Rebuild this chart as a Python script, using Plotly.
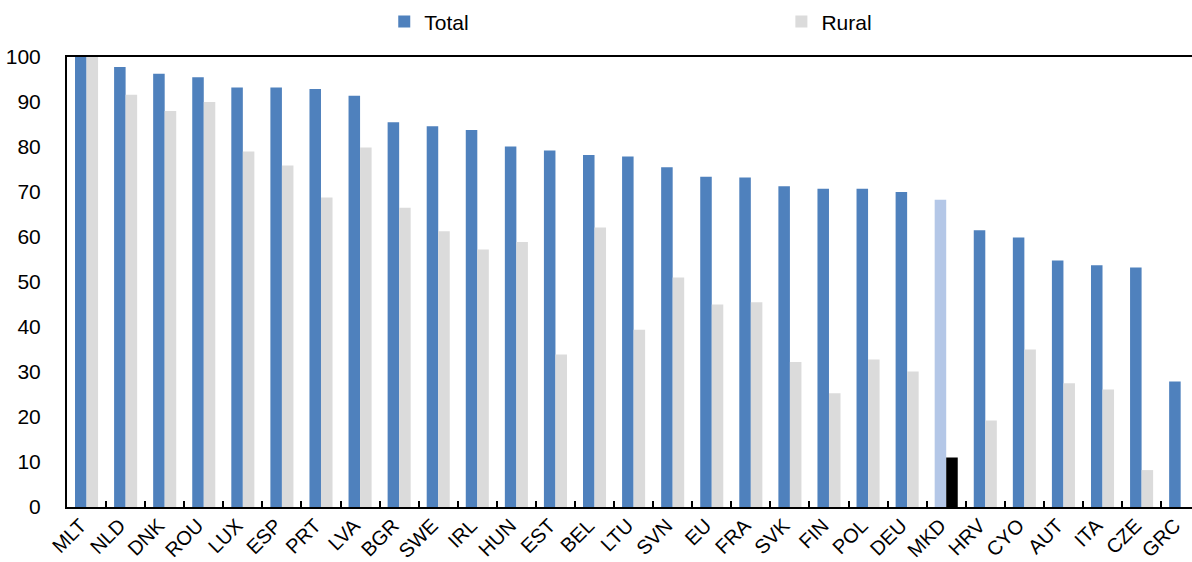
import plotly.graph_objects as go

# Share of population covered, total vs rural, by country
countries = ["MLT", "NLD", "DNK", "ROU", "LUX", "ESP", "PRT", "LVA", "BGR", "SWE",
             "IRL", "HUN", "EST", "BEL", "LTU", "SVN", "EU", "FRA", "SVK", "FIN",
             "POL", "DEU", "MKD", "HRV", "CYO", "AUT", "ITA", "CZE", "GRC"]
total = [100, 97.8, 96.3, 95.5, 93.2, 93.2, 92.9, 91.4, 85.5, 84.6,
         83.8, 80.1, 79.2, 78.2, 77.9, 75.5, 73.4, 73.2, 71.3, 70.7,
         70.7, 70.0, 68.3, 61.5, 59.9, 54.8, 53.7, 53.2, 27.9]
rural = [100, 91.6, 88.0, 90.0, 79.0, 75.9, 68.8, 79.9, 66.5, 61.3,
         57.2, 58.9, 33.9, 62.1, 39.4, 51.0, 45.0, 45.5, 32.2, 25.3,
         32.8, 30.1, 11.0, 19.2, 35.0, 27.5, 26.1, 8.2, None]
y_ticks = list(range(0, 101, 10))

highlight = "MKD"
total_colors = ["#B4C7E7" if c == highlight else "#4F81BD" for c in countries]
rural_colors = ["#000000" if c == highlight else "#DBDBDB" for c in countries]

FONT = "Liberation Sans, Arial, sans-serif"

fig = go.Figure()
fig.add_trace(go.Bar(name="Total", x=countries, y=total, legend="legend",
                     marker=dict(color=total_colors, line=dict(width=0))))
fig.add_trace(go.Bar(name="Rural", x=countries, y=rural, legend="legend2",
                     marker=dict(color=rural_colors, line=dict(width=0))))

legend_style = dict(orientation="h", xanchor="left", y=1.078, yanchor="middle",
                    itemwidth=30, font=dict(family=FONT, size=21, color="black"),
                    bgcolor="rgba(0,0,0,0)")

fig.update_layout(
    width=1192, height=562,
    margin=dict(l=67, r=0, t=57, b=55),
    paper_bgcolor="white", plot_bgcolor="white",
    barmode="group", bargap=0.41, bargroupgap=0,
    font=dict(family=FONT, size=21, color="black"),
    showlegend=True,
    legend=dict(x=0.282, **legend_style),
    legend2=dict(x=0.635, **legend_style),
)

fig.update_xaxes(
    type="category", range=[-0.5, 28.29],
    showline=True, linecolor="black", linewidth=2, mirror=True,
    ticks="inside", tickson="boundaries", ticklen=6, tickwidth=2, tickcolor="black",
    tickangle=-45, ticklabelstandoff=-3, ticklabelshift=-6,
    tickfont=dict(family=FONT, size=20, color="black"),
    showgrid=False, automargin=False,
)
fig.update_yaxes(
    range=[0, 100], tickvals=y_ticks,
    showline=True, linecolor="black", linewidth=2,
    ticks="", ticklabelstandoff=20,
    tickfont=dict(family=FONT, size=21, color="black"),
    showgrid=False, zeroline=False, automargin=False,
)

fig.write_html("out.html")
